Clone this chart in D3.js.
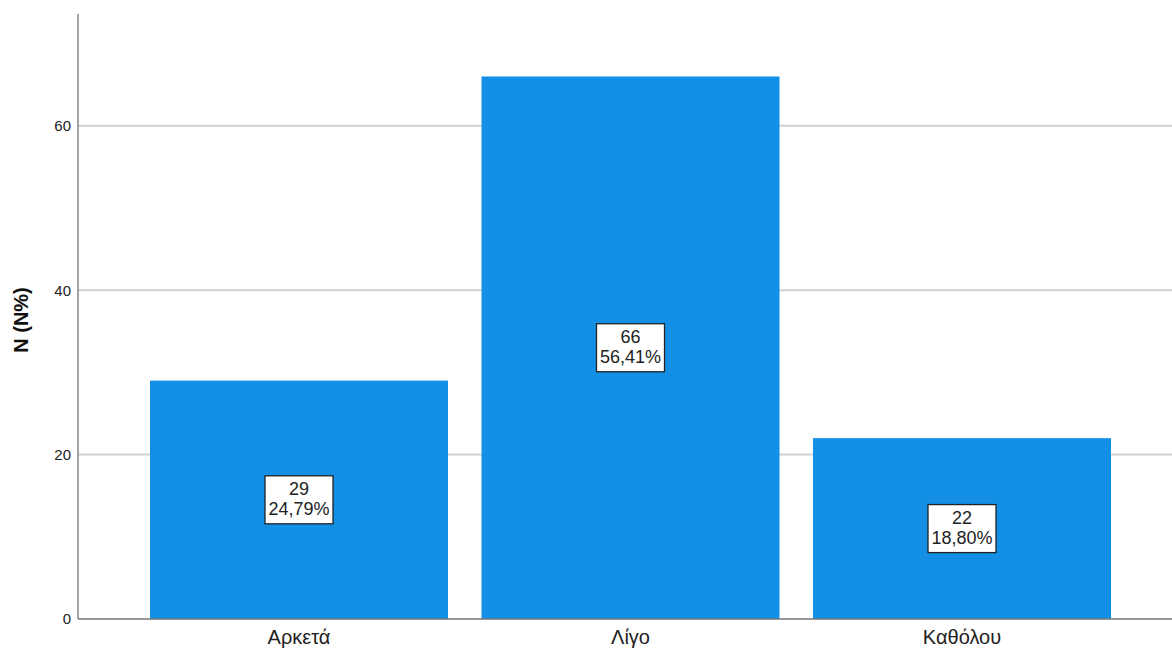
<!DOCTYPE html>
<html><head><meta charset="utf-8">
<script src="https://cdn.jsdelivr.net/npm/d3@7"></script>
<style>body{margin:0;background:#fff}svg{display:block}text{font-family:"Liberation Sans",Arial,sans-serif}</style>
</head><body><svg id="c" width="1172" height="655"></svg>
<script>
const categories = ["Αρκετά", "Λίγο", "Καθόλου"];
const counts = [29, 66, 22];
const percents = ["24,79%", "56,41%", "18,80%"];
const yTicks = [0, 20, 40, 60];
const yLabel = "N (N%)";

const svg = d3.select("#c");
const x0 = 78, x1 = 1172, yBase = 619, yTop = 14;
const y = d3.scaleLinear().domain([0, 73.6]).range([yBase, yTop]);
const x = d3.scaleBand().domain(categories).range([133.25, 1127.75]).paddingInner(0.101).paddingOuter(0.0505);

// gridlines
svg.append("g").selectAll("line").data(yTicks.filter(d => d > 0)).join("line")
  .attr("x1", x0).attr("x2", x1).attr("y1", d => y(d)).attr("y2", d => y(d))
  .attr("stroke", "#d2d2d2").attr("stroke-width", 2);

// bars
svg.append("g").selectAll("rect").data(categories).join("rect")
  .attr("x", d => x(d)).attr("width", x.bandwidth())
  .attr("y", (d, i) => y(counts[i])).attr("height", (d, i) => yBase - y(counts[i]))
  .attr("fill", "#1390e6");

// axes
const yAxis = svg.append("g").attr("transform", `translate(${x0},0)`)
  .call(d3.axisLeft(y).tickValues(yTicks).tickSize(0).tickPadding(7));
yAxis.select(".domain").remove();
yAxis.selectAll("text").attr("font-size", 15).attr("fill", "#222");
svg.append("line").attr("x1", x0).attr("x2", x0).attr("y1", yTop).attr("y2", yBase)
  .attr("stroke", "#888").attr("stroke-width", 1.5);
svg.append("line").attr("x1", x0).attr("x2", x1).attr("y1", yBase).attr("y2", yBase)
  .attr("stroke", "#777").attr("stroke-width", 1.5);

const xAxis = svg.append("g").attr("transform", `translate(0,${yBase})`)
  .call(d3.axisBottom(x).tickSize(0).tickPadding(11));
xAxis.select(".domain").remove();
xAxis.selectAll("text").attr("font-size", 20).attr("fill", "#222");

svg.append("text").attr("transform", `translate(28,320) rotate(-90)`)
  .attr("text-anchor", "middle").attr("font-size", 20).attr("font-weight", "bold")
  .attr("fill", "#111").text(yLabel);

// labels
const lab = svg.append("g").selectAll("g").data(categories).join("g")
  .attr("transform", (d, i) => `translate(${x(d) + x.bandwidth() / 2},${(y(counts[i]) + yBase) / 2})`);
lab.append("rect").attr("x", -34).attr("y", -24).attr("width", 68).attr("height", 48)
  .attr("fill", "#fff").attr("stroke", "#222").attr("stroke-width", 1.3);
lab.append("text").attr("text-anchor", "middle").attr("y", -5).attr("font-size", 18).attr("fill", "#222")
  .text((d, i) => counts[i]);
lab.append("text").attr("text-anchor", "middle").attr("y", 15).attr("font-size", 18).attr("fill", "#222")
  .text((d, i) => percents[i]);
</script></body></html>
